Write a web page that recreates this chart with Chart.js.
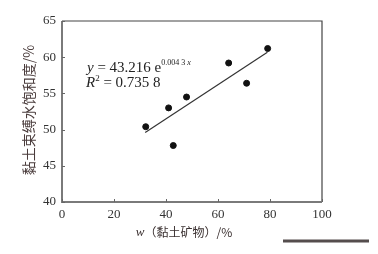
<!DOCTYPE html>
<html>
<head>
<meta charset="utf-8">
<script src="https://cdn.jsdelivr.net/npm/chart.js@4/dist/chart.umd.min.js"></script>
<style>
    html, body { margin: 0; padding: 0; background: #fff; }
    #wrap { width: 378px; height: 254px; position: relative; }
</style>
</head>
<body>
<div id="wrap"><canvas id="chart" width="378" height="254"></canvas></div>
<script>
// Data
const clayMineral = [32.2, 42.8, 41.0, 47.9, 64.1, 71.0, 79.1];
const boundWater = [50.4, 47.8, 53.0, 54.5, 59.2, 56.4, 61.2];
const fitX = [32, 79];
const fitY = [49.6, 60.7];
const xTicks = [0, 20, 40, 60, 80, 100];
const yTicks = [40, 45, 50, 55, 60, 65];

const serif = '"Liberation Serif", "DejaVu Serif", serif';
const cjk = '"Noto Sans CJK SC", sans-serif';

// Frame, inward ticks, titles and equation
const decor = {
    id: 'decor',
    afterDraw(chart) {
        const ctx = chart.ctx;
        const a = chart.chartArea;
        const xs = chart.scales.x;
        const ys = chart.scales.y;
        ctx.save();

        // top and right border
        ctx.strokeStyle = '#444';
        ctx.lineWidth = 1.2;
        ctx.beginPath();
        ctx.moveTo(a.left, a.top);
        ctx.lineTo(a.right, a.top);
        ctx.lineTo(a.right, a.bottom);
        ctx.stroke();

        // left and bottom axis
        ctx.strokeStyle = '#7a7a7a';
        ctx.lineWidth = 2;
        ctx.beginPath();
        ctx.moveTo(a.left, a.top);
        ctx.lineTo(a.left, a.bottom);
        ctx.lineTo(a.right, a.bottom);
        ctx.stroke();

        // inward ticks
        ctx.lineWidth = 1;
        ctx.strokeStyle = '#666';
        ctx.beginPath();
        xTicks.forEach(v => {
            const px = Math.round(xs.getPixelForValue(v)) + 0.5;
            ctx.moveTo(px, a.bottom);
            ctx.lineTo(px, a.bottom - 3);
        });
        yTicks.forEach(v => {
            const py = Math.round(ys.getPixelForValue(v)) + 0.5;
            ctx.moveTo(a.left, py);
            ctx.lineTo(a.left + 3, py);
        });
        ctx.stroke();

        // equation
        ctx.fillStyle = '#222';
        ctx.textBaseline = 'alphabetic';
        ctx.textAlign = 'left';
        let x = 87, y = 72;
        ctx.font = 'italic 15px ' + serif;
        ctx.fillText('y', x, y);
        x += ctx.measureText('y').width;
        ctx.font = '15px ' + serif;
        let s = ' = 43.216 e';
        ctx.fillText(s, x, y);
        x += ctx.measureText(s).width;
        ctx.font = '8px ' + serif;
        s = '0.004 3 ';
        ctx.fillText(s, x, y - 7);
        x += ctx.measureText(s).width;
        ctx.font = 'italic 8px ' + serif;
        ctx.fillText('x', x, y - 7);

        x = 86; y = 86.5;
        ctx.font = 'italic 15px ' + serif;
        ctx.fillText('R', x, y);
        x += ctx.measureText('R').width;
        ctx.font = '9px ' + serif;
        ctx.fillText('2', x, y - 6);
        x += ctx.measureText('2').width;
        ctx.font = '15px ' + serif;
        ctx.fillText(' = 0.735 8', x, y);

        // x title
        ctx.fillStyle = '#3a3030';
        ctx.font = 'italic 13px ' + serif;
        const w1 = ctx.measureText('w').width;
        ctx.font = '12px ' + cjk;
        const rest = '（黏土矿物）/%';
        const w2 = ctx.measureText(rest).width;
        let tx = 184 - (w1 + w2) / 2;
        ctx.textBaseline = 'middle';
        ctx.font = 'italic 13px ' + serif;
        ctx.fillText('w', tx, 233);
        ctx.font = '12px ' + cjk;
        ctx.fillText(rest, tx + w1, 232);

        // y title
        ctx.fillStyle = '#4a3c3c';
        ctx.translate(29, 110);
        ctx.rotate(-Math.PI / 2);
        ctx.textAlign = 'center';
        ctx.font = '14px ' + cjk;
        ctx.fillText('黏土束缚水饱和度/%', 0, 0);
        ctx.restore();

        // bar under the figure
        ctx.save();
        ctx.fillStyle = '#554d4d';
        ctx.fillRect(283, 239.5, 86, 3);
        ctx.restore();
    }
};

function init() {
    const ctx = document.getElementById('chart').getContext('2d');
    new Chart(ctx, {
        type: 'scatter',
        data: {
            datasets: [
                {
                    label: 'points',
                    data: clayMineral.map((v, i) => ({ x: v, y: boundWater[i] })),
                    backgroundColor: '#111',
                    borderColor: '#111',
                    pointRadius: 3,
                    pointHoverRadius: 3
                },
                {
                    label: 'fit',
                    type: 'line',
                    data: fitX.map((v, i) => ({ x: v, y: fitY[i] })),
                    borderColor: '#333',
                    borderWidth: 1.2,
                    pointRadius: 0,
                    fill: false
                }
            ]
        },
        options: {
            responsive: false,
            animation: false,
            devicePixelRatio: 1,
            layout: { padding: { top: 21, right: 56, left: 0, bottom: 0 } },
            plugins: {
                legend: { display: false },
                tooltip: { enabled: false }
            },
            scales: {
                x: {
                    type: 'linear',
                    min: 0,
                    max: 100,
                    afterBuildTicks: s => { s.ticks = xTicks.map(v => ({ value: v })); },
                    afterFit: s => { s.height = 52; },
                    border: { display: false },
                    grid: { display: false, drawTicks: false, tickLength: 0 },
                    ticks: {
                        color: '#333',
                        font: { family: serif, size: 13 },
                        padding: 5,
                        maxRotation: 0
                    }
                },
                y: {
                    type: 'linear',
                    min: 40,
                    max: 65,
                    afterBuildTicks: s => { s.ticks = yTicks.map(v => ({ value: v })); },
                    afterFit: s => { s.width = 62; },
                    border: { display: false },
                    grid: { display: false, drawTicks: false, tickLength: 0 },
                    ticks: {
                        color: '#333',
                        font: { family: serif, size: 13 },
                        padding: 6
                    }
                }
            }
        },
        plugins: [decor]
    });
}

document.addEventListener('DOMContentLoaded', init);
</script>
</body>
</html>
